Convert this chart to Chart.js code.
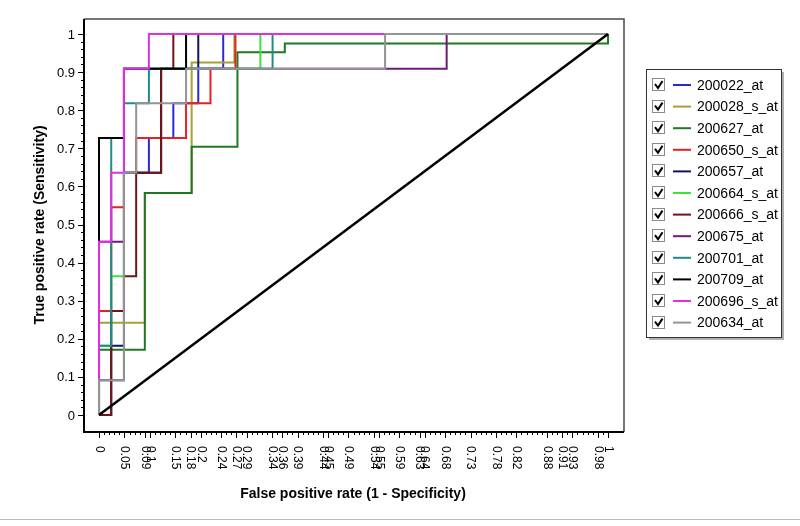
<!DOCTYPE html>
<html>
<head>
<meta charset="utf-8">
<script src="https://cdn.jsdelivr.net/npm/chart.js@4/dist/chart.umd.min.js"></script>
<style>
html,body{margin:0;padding:0;background:#fff;}
canvas{display:block;}
</style>
</head>
<body>
<canvas id="c" width="800" height="526"></canvas>
<script>
// ---- data (FPR, TPR) pairs ----
const s200022_at   = [[0,0],[0,0.091],[0.049,0.091],[0.049,0.636],[0.098,0.636],[0.098,0.727],[0.146,0.727],[0.146,0.818],[0.195,0.818],[0.195,0.909],[0.244,0.909],[0.244,1],[1,1]];
const s200028_s_at = [[0,0],[0,0.242],[0.09,0.242],[0.09,0.583],[0.182,0.583],[0.182,0.925],[0.266,0.925],[0.266,1],[1,1]];
const s200627_at   = [[0,0],[0,0.171],[0.09,0.171],[0.09,0.583],[0.182,0.583],[0.182,0.704],[0.272,0.704],[0.272,0.952],[0.365,0.952],[0.365,0.975],[1,0.975],[1,1]];
const s200650_s_at = [[0,0],[0,0.273],[0.024,0.273],[0.024,0.545],[0.049,0.545],[0.049,0.636],[0.073,0.636],[0.073,0.727],[0.171,0.727],[0.171,0.818],[0.219,0.818],[0.219,0.909],[0.268,0.909],[0.268,1],[1,1]];
const s200657_at   = [[0,0],[0.024,0],[0.024,0.182],[0.049,0.182],[0.049,0.636],[0.122,0.636],[0.122,0.909],[0.195,0.909],[0.195,1],[1,1]];
const s200664_s_at = [[0,0],[0,0.182],[0.024,0.182],[0.024,0.364],[0.049,0.364],[0.049,0.909],[0.317,0.909],[0.317,1],[1,1]];
const s200666_s_at = [[0,0],[0.024,0],[0.024,0.273],[0.049,0.273],[0.049,0.364],[0.073,0.364],[0.073,0.636],[0.122,0.636],[0.122,0.909],[0.146,0.909],[0.146,1],[1,1]];
const s200675_at   = [[0,0],[0,0.455],[0.049,0.455],[0.049,0.909],[0.683,0.909],[0.683,1],[1,1]];
const s200701_at   = [[0,0],[0,0.182],[0.024,0.182],[0.024,0.727],[0.049,0.727],[0.049,0.818],[0.098,0.818],[0.098,0.909],[0.341,0.909],[0.341,1],[1,1]];
const s200709_at   = [[0,0],[0,0.727],[0.049,0.727],[0.049,0.909],[0.171,0.909],[0.171,1],[1,1]];
const s200696_s_at = [[0,0],[0,0.455],[0.024,0.455],[0.024,0.636],[0.049,0.636],[0.049,0.909],[0.098,0.909],[0.098,1],[1,1]];
const s200634_at   = [[0,0],[0,0.091],[0.049,0.091],[0.049,0.636],[0.073,0.636],[0.073,0.818],[0.171,0.818],[0.171,0.909],[0.562,0.909],[0.562,1],[1,1]];
const diagonal     = [[0,0],[1,1]];

const seriesNames  = ["200022_at","200028_s_at","200627_at","200650_s_at","200657_at","200664_s_at","200666_s_at","200675_at","200701_at","200709_at","200696_s_at","200634_at"];
const seriesValues = [s200022_at,s200028_s_at,s200627_at,s200650_s_at,s200657_at,s200664_s_at,s200666_s_at,s200675_at,s200701_at,s200709_at,s200696_s_at,s200634_at];

const xTickValues = [0,0.05,0.09,0.1,0.15,0.18,0.2,0.24,0.27,0.29,0.34,0.36,0.39,0.44,0.45,0.49,0.54,0.55,0.59,0.63,0.64,0.68,0.73,0.78,0.82,0.88,0.91,0.93,0.98,1];
const xTickLabels = ["0","0.05","0.09","0.1","0.15","0.18","0.2","0.24","0.27","0.29","0.34","0.36","0.39","0.44","0.45","0.49","0.54","0.55","0.59","0.63","0.64","0.68","0.73","0.78","0.82","0.88","0.91","0.93","0.98","1"];
const yTickValues = [0,0.1,0.2,0.3,0.4,0.5,0.6,0.7,0.8,0.9,1];
const yTickLabels = ["0","0.1","0.2","0.3","0.4","0.5","0.6","0.7","0.8","0.9","1"];

const xTitle = "False positive rate (1 - Specificity)";
const yTitle = "True positive rate (Sensitivity)";

// ---- styles ----
const colors = ["#2a2ad0","#a8a032","#1f7a1f","#e42222","#14145e","#3ae23a","#6e1616","#6e1a78","#1f8c8c","#000000","#e22ee2","#949494"];
const FONT = '"Liberation Sans", Arial, sans-serif';

const datasets = seriesValues.map((s, i) => ({
  label: seriesNames[i],
  data: s.map(p => ({x: p[0], y: p[1]})),
  borderColor: colors[i],
  backgroundColor: colors[i],
  borderWidth: 2,
  pointRadius: 0,
  showLine: true,
  fill: false,
  tension: 0,
  order: seriesNames.length - i
}));
datasets.push({
  label: "diag",
  data: diagonal.map(p => ({x: p[0], y: p[1]})),
  borderColor: "#000",
  borderWidth: 2.5,
  pointRadius: 0,
  showLine: true,
  fill: false,
  order: 0
});

const decor = {
  id: 'decor',
  afterDraw(chart) {
    const ctx = chart.ctx;
    const xs = chart.scales.x, ys = chart.scales.y, a = chart.chartArea;
    ctx.save();
    // frame top/right
    ctx.strokeStyle = "#4a4a4a"; ctx.lineWidth = 1.5;
    ctx.beginPath();
    ctx.moveTo(a.left, a.top); ctx.lineTo(a.right, a.top); ctx.lineTo(a.right, a.bottom);
    ctx.stroke();
    // axes left/bottom
    ctx.strokeStyle = "#000"; ctx.lineWidth = 2;
    ctx.beginPath();
    ctx.moveTo(a.left, a.top); ctx.lineTo(a.left, a.bottom); ctx.lineTo(a.right, a.bottom);
    ctx.stroke();
    // y ticks
    ctx.lineWidth = 1;
    ctx.beginPath();
    for (let k = 0; k <= 50; k++) {
      const py = Math.round(ys.getPixelForValue(k / 50)) + 0.5;
      const len = (k % 5 === 0) ? 6 : 3;
      ctx.moveTo(a.left - len, py); ctx.lineTo(a.left, py);
    }
    ctx.stroke();
    ctx.fillStyle = "#000";
    ctx.font = "13px " + FONT;
    ctx.textAlign = "right"; ctx.textBaseline = "middle";
    yTickValues.forEach((v, i) => {
      ctx.fillText(yTickLabels[i], a.left - 9, ys.getPixelForValue(v) + 1);
    });
    // x ticks
    ctx.beginPath();
    for (let k = 0; k <= 100; k++) {
      const px = Math.round(xs.getPixelForValue(k / 100)) + 0.5;
      ctx.moveTo(px, a.bottom); ctx.lineTo(px, a.bottom + 3);
    }
    xTickValues.forEach(v => {
      const px = Math.round(xs.getPixelForValue(v)) + 0.5;
      ctx.moveTo(px, a.bottom); ctx.lineTo(px, a.bottom + 6);
    });
    ctx.stroke();
    ctx.font = "12px " + FONT;
    ctx.textAlign = "left"; ctx.textBaseline = "middle";
    xTickValues.forEach((v, i) => {
      ctx.save();
      ctx.translate(xs.getPixelForValue(v), a.bottom + 14);
      ctx.rotate(Math.PI / 2);
      ctx.fillText(xTickLabels[i], 0, 0);
      ctx.restore();
    });
    // titles
    ctx.font = "bold 14px " + FONT;
    ctx.textAlign = "center"; ctx.textBaseline = "middle";
    ctx.fillText(xTitle, 353, 494);
    ctx.save();
    ctx.translate(40, 225);
    ctx.rotate(-Math.PI / 2);
    ctx.fillText(yTitle, 0, 0);
    ctx.restore();
    // legend box
    const bx = 646, by = 69, bw = 135, bh = 268;
    ctx.fillStyle = "#b0b0b0";
    ctx.fillRect(bx + 3, by + 3, bw, bh);
    ctx.fillStyle = "#fff";
    ctx.fillRect(bx, by, bw, bh);
    ctx.strokeStyle = "#333"; ctx.lineWidth = 1;
    ctx.strokeRect(bx + 0.5, by + 0.5, bw, bh);
    ctx.font = "14px " + FONT;
    ctx.textAlign = "left"; ctx.textBaseline = "middle";
    seriesNames.forEach((n, i) => {
      const cy = 85 + i * 21.6;
      // checkbox
      ctx.strokeStyle = "#8a8a8a"; ctx.lineWidth = 1;
      ctx.strokeRect(652.5, Math.round(cy) - 6.5, 12, 12);
      ctx.strokeStyle = "#000"; ctx.lineWidth = 2;
      ctx.beginPath();
      ctx.moveTo(655, cy - 1); ctx.lineTo(658, cy + 3); ctx.lineTo(662.5, cy - 4);
      ctx.stroke();
      // line sample
      ctx.strokeStyle = colors[i]; ctx.lineWidth = 2;
      ctx.beginPath();
      ctx.moveTo(673, cy); ctx.lineTo(691, cy);
      ctx.stroke();
      ctx.fillStyle = "#000";
      ctx.fillText(n, 697, cy + 1);
    });
    // window bottom line
    ctx.strokeStyle = "#bbb"; ctx.lineWidth = 1;
    ctx.beginPath(); ctx.moveTo(0, 519.5); ctx.lineTo(800, 519.5); ctx.stroke();
    ctx.restore();
  }
};

new Chart(document.getElementById('c'), {
  type: 'scatter',
  data: { datasets },
  options: {
    responsive: false,
    animation: false,
    layout: { padding: { left: 84, top: 19, right: 176, bottom: 94 } },
    plugins: { legend: { display: false }, tooltip: { enabled: false }, title: { display: false } },
    scales: {
      x: { type: 'linear', min: -0.0295, max: 1.0314, display: false },
      y: { type: 'linear', min: -0.0446, max: 1.0394, display: false }
    }
  },
  plugins: [decor]
});
</script>
</body>
</html>
